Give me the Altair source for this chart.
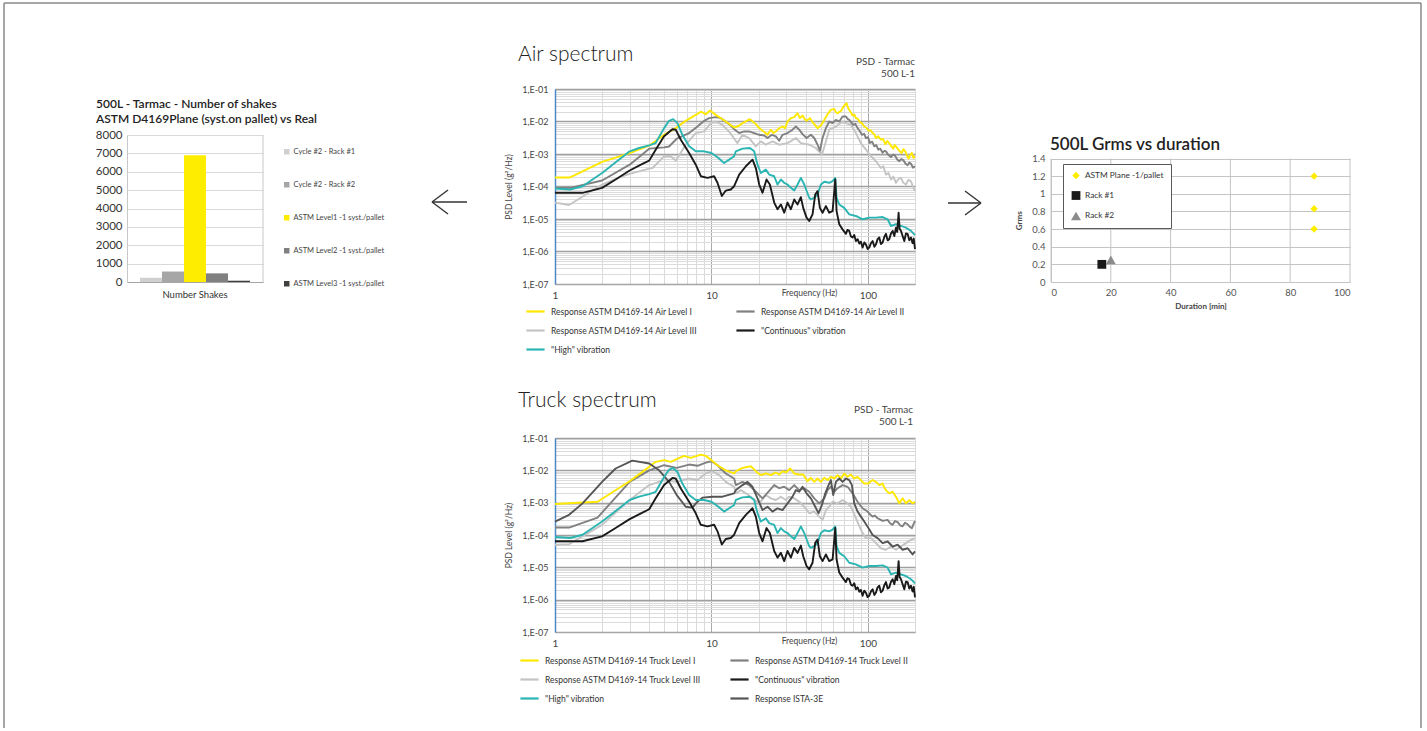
import altair as alt
import pandas as pd

FONT = "Lato"
TXT = "#333333"

# ---------------------------------------------------------------------------
# Number of shakes (bar chart)
# ---------------------------------------------------------------------------
shake_series = [
    "Cycle #2 - Rack #1",
    "Cycle #2 - Rack #2",
    "ASTM Level1 -1 syst./pallet",
    "ASTM Level2 -1 syst./pallet",
    "ASTM Level3 -1 syst./pallet",
]
shake_counts = [230, 570, 6900, 470, 70]
shake_colors = ["#d0d0d0", "#a6a6a6", "#ffed00", "#808080", "#404040"]

# ---------------------------------------------------------------------------
# Grms vs duration (scatter)
# ---------------------------------------------------------------------------
grms_series = ["ASTM Plane -1/pallet", "Rack #1", "Rack #2"]
grms_point_series = ["ASTM Plane -1/pallet", "ASTM Plane -1/pallet", "ASTM Plane -1/pallet", "Rack #1", "Rack #2"]
grms_duration = [88, 88, 88, 17, 20]
grms_value = [1.2, 0.83, 0.6, 0.2, 0.25]
grms_colors = ["#ffed00", "#1a1a1a", "#8c8c8c"]
grms_shapes = ["diamond", "square", "triangle-up"]
grms_sizes = [55, 100, 40]
duration_ticks = [0, 20, 40, 60, 80, 100]
grms_ticks = [0, 0.2, 0.4, 0.6, 0.8, 1.0, 1.2, 1.4]

# ---------------------------------------------------------------------------
# PSD curves: (frequency Hz, PSD g^2/Hz)
# ---------------------------------------------------------------------------
air_level1 = [
    (1.0, 1.9e-4), (1.25, 1.9e-4), (2.0, 5.7e-4), (3.0, 1.07e-3), (4.0, 1.8e-3), (4.98, 3.9e-3),
    (5.91, 6.25e-3), (6.85, 1.05e-2), (7.94, 1.6e-2), (8.55, 2.0e-2), (9.2, 1.68e-2), (9.8, 2.17e-2),
    (10.66, 1.6e-2), (12.35, 1.0e-2), (13.96, 6.5e-3), (15.0, 7.4e-3), (15.79, 8.9e-3), (17.6, 1.18e-2),
    (19.22, 8.3e-3), (20.2, 6.3e-3), (21.21, 5.2e-3), (22.0, 4.6e-3), (22.83, 3.9e-3), (23.97, 5.6e-3),
    (24.9, 4.4e-3), (25.8, 4.95e-3), (27.1, 6.25e-3), (28.47, 7.0e-3), (29.5, 6.2e-3), (30.64, 1.0e-2),
    (32.19, 1.27e-2), (33.81, 1.36e-2), (35.51, 1.8e-2), (36.75, 1.27e-2), (38.22, 1.53e-2), (39.4, 1.2e-2),
    (40.54, 1.05e-2), (42.58, 1.27e-2), (44.0, 1.0e-2), (45.39, 8.3e-3), (47.67, 6.25e-3), (50.06, 7.5e-3),
    (52.6, 1.12e-2), (55.24, 1.68e-2), (58.0, 2.27e-2), (60.94, 2.44e-2), (62.5, 1.9e-2), (64.0, 1.8e-2),
    (67.22, 2.12e-2), (69.0, 2.6e-2), (70.6, 3.1e-2), (73.07, 3.64e-2), (74.5, 2.7e-2), (76.0, 2.27e-2),
    (77.9, 1.9e-2), (79.82, 1.53e-2), (81.8, 1.65e-2), (83.8, 1.27e-2), (86.3, 1.2e-2), (88.9, 9.5e-3),
    (91.8, 8.8e-3), (94.8, 7.0e-3), (97.8, 6.4e-3), (101.0, 5.2e-3), (104.0, 5.4e-3), (107.2, 4.4e-3),
    (110.0, 4.0e-3), (112.6, 3.1e-3), (116.5, 3.5e-3), (121.1, 2.75e-3), (125.0, 2.9e-3), (129.2, 2.0e-3),
    (133.0, 2.5e-3), (136.9, 2.15e-3), (141.0, 1.75e-3), (145.3, 1.46e-3), (148.0, 1.9e-3), (151.1, 1.72e-3),
    (157.5, 1.3e-3), (164.3, 1.07e-3), (168.5, 1.4e-3), (173.4, 1.2e-3), (177.5, 9.0e-4), (182.1, 7.2e-4),
    (186.5, 9.5e-4), (191.2, 1.07e-3), (195.5, 7.6e-4), (200.0, 8.5e-4),
]
air_level2 = [
    (1.0, 9.1e-5), (1.25, 9.1e-5), (2.0, 1.53e-4), (3.0, 4.7e-4), (4.0, 1.46e-3), (4.98, 1.6e-3),
    (5.36, 1.7e-3), (6.0, 2.95e-3), (7.2, 4.4e-3), (8.14, 7.0e-3), (8.98, 1.05e-2), (9.66, 1.27e-2),
    (10.66, 1.36e-2), (11.47, 1.27e-2), (12.97, 8.3e-3), (13.96, 5.8e-3), (15.04, 4.4e-3), (16.19, 4.95e-3),
    (17.42, 4.95e-3), (18.76, 4.4e-3), (20.19, 3.9e-3), (21.73, 3.7e-3), (22.83, 3.1e-3), (24.33, 3.9e-3),
    (25.8, 3.5e-3), (27.1, 2.56e-3), (28.47, 3.9e-3), (30.64, 4.4e-3), (32.99, 5.6e-3), (34.64, 7.0e-3),
    (36.39, 5.6e-3), (38.22, 4.1e-3), (40.54, 3.1e-3), (43.21, 3.9e-3), (45.39, 3.1e-3), (47.67, 1.93e-3),
    (49.33, 1.26e-3), (51.3, 3.1e-3), (53.9, 6.25e-3), (56.61, 1.0e-2), (59.47, 8.9e-3), (62.45, 1.12e-2),
    (65.59, 1.0e-2), (68.87, 1.42e-2), (72.36, 1.42e-2), (74.2, 1.2e-2), (76.0, 1.12e-2), (80.6, 7.9e-3),
    (83.0, 8.5e-3), (85.9, 6.25e-3), (88.5, 5.2e-3), (91.6, 3.9e-3), (94.5, 4.2e-3), (97.1, 3.1e-3),
    (100.0, 3.3e-3), (103.0, 2.17e-3), (106.5, 2.4e-3), (109.8, 1.72e-3), (113.0, 1.9e-3), (116.5, 1.36e-3),
    (120.0, 1.45e-3), (124.2, 1.1e-3), (127.5, 1.25e-3), (130.4, 1.2e-3), (135.0, 9.5e-4), (140.4, 8.0e-4),
    (144.5, 9.5e-4), (148.9, 9.0e-4), (154.0, 6.8e-4), (158.7, 6.0e-4), (163.5, 7.0e-4), (168.4, 6.5e-4),
    (174.0, 5.0e-4), (179.4, 4.5e-4), (184.0, 5.5e-4), (188.5, 5.0e-4), (194.0, 3.8e-4), (200.0, 4.2e-4),
]
air_level3 = [
    (1.0, 3.2e-5), (1.23, 2.7e-5), (2.0, 1.15e-4), (2.7, 2.07e-4), (3.0, 2.44e-4), (4.0, 3.55e-4),
    (4.2, 3.7e-4), (4.98, 8.5e-4), (5.49, 8.5e-4), (5.91, 6.25e-4), (6.85, 1.93e-3), (7.94, 4.4e-3),
    (8.98, 4.95e-3), (10.0, 9.5e-3), (10.66, 1.0e-2), (11.76, 7.9e-3), (13.0, 4.8e-3), (13.96, 3.0e-3),
    (14.67, 2.17e-3), (15.79, 3.9e-3), (17.42, 3.1e-3), (19.22, 1.72e-3), (20.69, 2.44e-3), (22.27, 1.93e-3),
    (24.57, 2.44e-3), (27.1, 1.93e-3), (30.64, 2.17e-3), (34.64, 3.1e-3), (37.29, 2.17e-3), (42.16, 1.93e-3),
    (46.51, 1.53e-3), (50.82, 9.5e-4), (53.9, 2.44e-3), (56.61, 5.6e-3), (62.45, 7.0e-3), (68.87, 1.0e-2),
    (72.36, 8.9e-3), (77.88, 7.9e-3), (83.8, 4.4e-3), (90.2, 2.17e-3), (97.1, 1.36e-3), (104.6, 8.5e-4),
    (112.6, 6.0e-4), (121.1, 3.7e-4), (125.5, 4.2e-4), (130.4, 2.33e-4), (135.5, 2.6e-4), (140.4, 1.64e-4),
    (145.5, 2.0e-4), (151.1, 1.3e-4), (157.0, 1.7e-4), (162.7, 1.84e-4), (168.5, 1.3e-4), (175.1, 1.15e-4),
    (181.5, 1.6e-4), (188.5, 1.45e-4), (194.0, 1.0e-4), (200.0, 7.2e-5),
]
high_vibration = [
    (1.0, 8.7e-5), (1.25, 8.1e-5), (1.5, 1.02e-4), (2.0, 2.6e-4), (3.0, 1.21e-3), (3.45, 1.53e-3),
    (4.0, 1.84e-3), (4.4, 2.17e-3), (4.98, 6.25e-3), (5.36, 1.05e-2), (5.69, 1.18e-2), (6.06, 8.9e-3),
    (6.52, 3.9e-3), (7.2, 1.72e-3), (7.94, 1.21e-3), (8.98, 1.21e-3), (10.0, 1.07e-3), (10.93, 7.9e-4),
    (12.05, 5.3e-4), (12.97, 6.7e-4), (13.96, 8.5e-4), (14.32, 1.21e-3), (15.79, 1.46e-3), (17.6, 1.53e-3),
    (18.76, 1.21e-3), (19.7, 4.7e-4), (20.69, 2.6e-4), (22.27, 3.3e-4), (23.39, 2.33e-4), (25.18, 2.07e-4),
    (26.45, 1.15e-4), (27.78, 1.64e-4), (29.17, 1.3e-4), (30.64, 1.15e-4), (32.19, 9.1e-5), (33.81, 7.5e-5),
    (35.51, 1.15e-4), (37.29, 1.84e-4), (39.17, 1.15e-4), (42.16, 4.5e-5), (43.21, 4.0e-5), (45.39, 4.5e-5),
    (47.67, 5.7e-5), (50.06, 1.15e-4), (52.6, 1.4e-4), (56.61, 1.3e-4), (59.47, 1.46e-4), (61.84, 1.84e-4),
    (63.07, 4.5e-5), (65.59, 2.8e-5), (70.6, 2.2e-5), (76.0, 1.39e-5), (83.8, 1.24e-5), (92.5, 9.8e-6),
    (102.0, 1.1e-5), (112.6, 1.1e-5), (124.2, 1.15e-5), (133.7, 9.8e-6), (140.4, 6.1e-6), (151.1, 6.9e-6),
    (162.7, 6.1e-6), (175.1, 5.4e-6), (188.5, 4.3e-6), (200.0, 3.2e-6),
]
continuous_vibration = [
    (1.0, 6.4e-5), (1.5, 6.4e-5), (2.0, 9.1e-5), (2.44, 1.64e-4), (3.0, 3.1e-4), (3.62, 4.95e-4),
    (4.0, 6.25e-4), (4.4, 1.36e-3), (4.98, 3.5e-3), (5.63, 5.8e-3), (5.91, 5.6e-3), (6.37, 2.75e-3),
    (7.2, 1.07e-3), (7.94, 4.7e-4), (8.55, 2.07e-4), (9.43, 1.84e-4), (10.4, 2.07e-4), (10.93, 1.3e-4),
    (11.65, 5.1e-5), (12.35, 7.5e-5), (13.29, 8.1e-5), (13.96, 1.02e-4), (15.04, 2.33e-4), (16.59, 4.2e-4),
    (18.3, 6.7e-4), (19.22, 3.7e-4), (20.19, 1.15e-4), (21.21, 6.4e-5), (22.49, 1.64e-4), (23.62, 1.15e-4),
    (25.18, 3.2e-5), (26.45, 2.0e-5), (27.78, 2.8e-5), (29.17, 1.56e-5), (30.64, 3.2e-5), (32.19, 2.0e-5),
    (33.81, 4.0e-5), (35.51, 2.8e-5), (37.29, 4.7e-5), (38.59, 2.2e-5), (40.54, 1.1e-5), (42.16, 8.7e-6),
    (44.28, 1.39e-5), (46.06, 5.7e-5), (47.67, 7.2e-5), (49.33, 2.2e-5), (51.3, 1.56e-5), (53.9, 2.5e-5),
    (56.61, 1.56e-5), (59.47, 1.75e-5), (61.84, 1.64e-4), (63.07, 1.75e-5), (65.59, 6.9e-6), (68.87, 4.8e-6),
    (72.36, 3.5e-6), (74.0, 4.6e-6), (76.0, 4.3e-6), (77.9, 2.9e-6), (79.82, 2.7e-6), (81.8, 3.2e-6),
    (83.8, 2.1e-6), (86.0, 2.4e-6), (88.1, 1.76e-6), (90.2, 2.0e-6), (92.5, 1.32e-6), (94.8, 1.9e-6),
    (97.1, 1.66e-6), (99.5, 1.2e-6), (102.0, 1.32e-6), (104.6, 1.8e-6), (107.2, 2.1e-6), (110.0, 1.4e-6),
    (112.6, 1.66e-6), (115.3, 2.4e-6), (118.2, 2.7e-6), (121.1, 1.7e-6), (124.2, 1.9e-6), (127.3, 2.8e-6),
    (130.4, 3.5e-6), (133.7, 2.2e-6), (136.9, 2.4e-6), (140.4, 3.6e-6), (143.9, 4.3e-6), (147.5, 3.0e-6),
    (151.1, 5.4e-6), (154.0, 4.0e-6), (157.1, 1.56e-5), (159.5, 5.0e-6), (162.7, 4.3e-6), (166.7, 3.0e-6),
    (170.8, 2.1e-6), (175.1, 3.6e-6), (179.4, 3.5e-6), (183.9, 2.2e-6), (188.5, 2.7e-6), (193.1, 1.8e-6),
    (196.5, 2.5e-6), (200.0, 1.18e-6),
]
truck_level1 = [
    (1.0, 9.1e-4), (1.87, 1.07e-3), (3.0, 4.6e-3), (4.0, 1.28e-2), (4.4, 1.83e-2), (4.98, 2.06e-2),
    (5.49, 1.83e-2), (6.0, 2.21e-2), (6.69, 2.8e-2), (7.38, 2.43e-2), (8.55, 3.07e-2), (9.2, 2.8e-2),
    (10.0, 2.06e-2), (10.93, 1.44e-2), (12.35, 1.0e-2), (13.96, 8.0e-3), (14.32, 9.4e-3), (15.79, 1.19e-2),
    (17.86, 1.34e-2), (19.22, 9.4e-3), (20.69, 7.1e-3), (22.27, 8.0e-3), (23.97, 7.1e-3), (25.8, 8.6e-3),
    (27.1, 7.4e-3), (28.47, 9.4e-3), (29.9, 8.6e-3), (31.87, 1.14e-2), (33.81, 8.0e-3), (36.39, 7.4e-3),
    (38.59, 7.4e-3), (41.14, 4.6e-3), (43.21, 5.9e-3), (45.39, 4.4e-3), (47.67, 5.6e-3), (50.06, 4.4e-3),
    (52.6, 5.9e-3), (55.24, 5.0e-3), (58.0, 6.3e-3), (60.94, 5.6e-3), (64.0, 7.1e-3), (67.22, 5.6e-3),
    (70.6, 8.0e-3), (74.16, 6.3e-3), (77.88, 7.4e-3), (81.8, 5.6e-3), (85.9, 6.3e-3), (90.2, 5.0e-3),
    (94.8, 3.9e-3), (101.0, 3.9e-3), (104.0, 4.6e-3), (107.2, 5.0e-3), (112.6, 4.4e-3), (118.2, 3.5e-3),
    (124.2, 3.9e-3), (127.0, 3.0e-3), (130.4, 2.45e-3), (136.9, 1.94e-3), (143.9, 2.18e-3), (151.1, 1.53e-3),
    (158.7, 9.5e-4), (166.7, 1.36e-3), (175.1, 9.5e-4), (183.9, 1.2e-3), (193.1, 9.5e-4), (200.0, 1.07e-3),
]
truck_level2 = [
    (1.0, 1.7e-4), (1.23, 1.7e-4), (1.87, 3.45e-4), (3.0, 4.4e-3), (4.0, 1.0e-2), (4.98, 1.44e-2),
    (6.0, 1.19e-2), (7.2, 1.51e-2), (8.14, 1.38e-2), (9.2, 1.74e-2), (10.0, 1.91e-2), (10.93, 1.44e-2),
    (12.35, 8.0e-3), (13.96, 5.6e-3), (14.32, 3.5e-3), (15.79, 4.4e-3), (17.42, 3.5e-3), (19.22, 2.18e-3),
    (21.21, 1.36e-3), (23.62, 2.45e-3), (25.18, 3.5e-3), (27.1, 2.8e-3), (29.17, 3.1e-3), (31.41, 2.45e-3),
    (33.81, 3.5e-3), (36.39, 2.45e-3), (39.17, 2.8e-3), (42.16, 2.18e-3), (45.39, 1.36e-3), (48.85, 9.5e-4),
    (52.6, 1.36e-3), (55.24, 2.45e-3), (58.0, 3.1e-3), (60.94, 2.18e-3), (64.0, 2.8e-3), (68.87, 3.5e-3),
    (74.16, 3.1e-3), (79.82, 1.94e-3), (85.9, 1.07e-3), (92.5, 6.7e-4), (99.5, 5.3e-4), (103.0, 4.4e-4),
    (107.2, 3.7e-4), (111.0, 4.0e-4), (115.3, 3.3e-4), (120.0, 3.0e-4), (124.2, 2.73e-4), (133.7, 2.93e-4),
    (138.5, 2.3e-4), (143.9, 2.06e-4), (149.0, 2.7e-4), (154.9, 2.5e-4), (160.5, 2.0e-4), (166.7, 1.85e-4),
    (172.5, 2.4e-4), (179.4, 2.15e-4), (185.0, 1.8e-4), (191.2, 1.62e-4), (196.0, 2.2e-4), (200.0, 2.73e-4),
]
truck_level3 = [
    (1.0, 5.0e-5), (1.23, 5.2e-5), (2.0, 2.06e-4), (3.0, 1.21e-3), (4.0, 3.5e-3), (4.98, 5.0e-3),
    (6.0, 4.4e-3), (7.2, 5.6e-3), (8.14, 5.0e-3), (9.2, 8.0e-3), (10.15, 9.4e-3), (11.19, 7.1e-3),
    (12.35, 4.4e-3), (13.96, 3.1e-3), (14.32, 1.94e-3), (15.41, 2.45e-3), (16.59, 1.94e-3), (18.3, 1.36e-3),
    (20.19, 9.5e-4), (22.27, 1.72e-3), (23.97, 1.36e-3), (25.8, 1.21e-3), (27.78, 1.53e-3), (29.9, 1.21e-3),
    (31.41, 1.53e-3), (33.81, 1.36e-3), (36.39, 1.07e-3), (39.17, 7.5e-4), (42.16, 4.7e-4), (45.39, 5.3e-4),
    (48.85, 3.7e-4), (51.3, 2.93e-4), (53.9, 5.9e-4), (56.61, 7.5e-4), (59.47, 1.07e-3), (64.0, 9.5e-4),
    (68.87, 1.21e-3), (74.16, 9.5e-4), (77.88, 7.5e-4), (83.8, 3.3e-4), (90.2, 1.44e-4), (97.1, 8.0e-5),
    (104.6, 8.0e-5), (112.6, 5.6e-5), (121.1, 3.9e-5), (130.4, 3.5e-5), (140.4, 4.4e-5), (151.1, 3.5e-5),
    (162.7, 4.4e-5), (175.1, 5.6e-5), (188.5, 7.1e-5), (200.0, 8.0e-5),
]
ista_3e = [
    (1.0, 2.6e-4), (1.23, 4.2e-4), (1.5, 9.5e-4), (2.0, 4.4e-3), (2.44, 1.14e-2), (3.12, 2.0e-2),
    (4.0, 1.62e-2), (4.63, 1.0e-2), (5.36, 4.4e-3), (6.0, 1.72e-3), (6.85, 7.5e-4), (7.56, 7.0e-4),
    (8.14, 1.07e-3), (8.76, 1.43e-3), (10.15, 1.53e-3), (11.76, 1.53e-3), (13.96, 1.94e-3), (14.32, 2.45e-3),
    (15.79, 3.5e-3), (17.0, 4.4e-3), (18.3, 3.1e-3), (19.7, 1.36e-3), (21.21, 5.9e-4), (22.83, 7.5e-4),
    (24.57, 5.3e-4), (26.45, 6.7e-4), (28.47, 5.9e-4), (30.64, 9.5e-4), (32.99, 1.53e-3), (34.64, 2.45e-3),
    (36.39, 2.18e-3), (38.22, 3.1e-3), (40.54, 1.94e-3), (43.21, 1.36e-3), (46.06, 7.5e-4), (48.37, 4.7e-4),
    (50.82, 8.5e-4), (53.38, 1.94e-3), (56.06, 3.5e-3), (58.0, 5.0e-3), (60.05, 1.72e-3), (62.45, 4.4e-3),
    (65.59, 5.6e-3), (68.87, 4.4e-3), (72.36, 5.6e-3), (76.0, 5.0e-3), (79.03, 3.5e-3), (81.8, 9.5e-4),
    (85.9, 5.3e-4), (90.2, 3.7e-4), (94.8, 2.6e-4), (101.0, 1.62e-4), (107.2, 1.0e-4), (115.3, 8.0e-5),
    (124.2, 5.6e-5), (133.7, 6.3e-5), (143.9, 4.4e-5), (154.9, 5.0e-5), (166.7, 3.5e-5), (179.4, 3.9e-5),
    (193.1, 2.5e-5), (200.0, 3.1e-5),
]

# Legend entries are listed column by column (two columns).
AIR_SERIES = {
    "Response ASTM D4169-14 Air Level I": (air_level1, "#ffe800"),
    "Response ASTM D4169-14 Air Level III": (air_level3, "#c4c4c4"),
    '"High" vibration': (high_vibration, "#2ab5b3"),
    "Response ASTM D4169-14 Air Level II": (air_level2, "#808080"),
    '"Continuous" vibration': (continuous_vibration, "#1a1a1a"),
}
AIR_DRAW_ORDER = [
    "Response ASTM D4169-14 Air Level III", "Response ASTM D4169-14 Air Level II",
    "Response ASTM D4169-14 Air Level I", '"High" vibration', '"Continuous" vibration',
]
TRUCK_SERIES = {
    "Response ASTM D4169-14 Truck Level I": (truck_level1, "#ffe800"),
    "Response ASTM D4169-14 Truck Level III": (truck_level3, "#c4c4c4"),
    '"High" vibration': (high_vibration, "#2ab5b3"),
    "Response ASTM D4169-14 Truck Level II": (truck_level2, "#808080"),
    '"Continuous" vibration': (continuous_vibration, "#1a1a1a"),
    "Response ISTA-3E": (ista_3e, "#555555"),
}
TRUCK_DRAW_ORDER = [
    "Response ASTM D4169-14 Truck Level III", "Response ASTM D4169-14 Truck Level II",
    "Response ASTM D4169-14 Truck Level I", "Response ISTA-3E", '"High" vibration', '"Continuous" vibration',
]

FREQ_TICKS = [1, 2, 3, 4, 5, 6, 7, 8, 9, 10, 20, 30, 40, 50, 60, 70, 80, 90, 100, 200]
PSD_TICKS = [float(f"{m}e{e}") for e in range(-7, -1) for m in range(1, 10)] + [0.1]
DECADE = "abs(log(datum.value) / LN10 - round(log(datum.value) / LN10)) < 0.01"

ONE = pd.DataFrame({"k": [0]})


def text(value, x, y, size, align="left", baseline="middle", weight="normal", color=TXT):
    return alt.Chart(ONE).mark_text(
        text=value, align=align, baseline=baseline, fontSize=size, fontWeight=weight,
        color=color, font=FONT,
    ).encode(x=alt.value(x), y=alt.value(y))


def segment(x, y, x2, y2, color="#333333", width=1.4):
    return alt.Chart(ONE).mark_rule(color=color, strokeWidth=width).encode(
        x=alt.value(x), y=alt.value(y), x2=alt.value(x2), y2=alt.value(y2)
    )


# ---------------------------------------------------------------------------
# Bar panel
# ---------------------------------------------------------------------------
bar_df = pd.DataFrame({"group": "Number Shakes", "series": shake_series, "count": shake_counts})
bar_y = alt.Y(
    "count:Q", title=None,
    scale=alt.Scale(domain=[0, 8000], range=[193, 46]),
    axis=alt.Axis(values=list(range(0, 8001, 1000)), format="d", grid=True, gridColor="#d9d9d9",
                  ticks=False, domainColor="#c8c8c8", labelFontSize=11.5, labelPadding=5, labelColor=TXT),
)

bars = alt.Chart(bar_df).mark_bar().encode(
    x=alt.X(
        "group:N", title=None,
        scale=alt.Scale(paddingInner=0, paddingOuter=0.118),
        axis=alt.Axis(labelAngle=0, ticks=False, domainColor="#a6a6a6", labelFontSize=9.5,
                      labelColor=TXT, labelPadding=7),
    ),
    xOffset=alt.XOffset("series:N", sort=shake_series, scale=alt.Scale(paddingInner=0, paddingOuter=0)),
    y=bar_y,
    color=alt.Color(
        "series:N", sort=shake_series,
        scale=alt.Scale(domain=shake_series, range=shake_colors),
        legend=alt.Legend(title=None, orient="none", legendX=156, legendY=59, symbolType="square",
                          symbolSize=30, symbolStrokeWidth=0, labelFontSize=7.5, labelColor="#444",
                          rowPadding=24, padding=0, labelOffset=3, labelLimit=300),
    ),
)
# right-hand edge of the plot frame, from 0 to the top of the count scale
frame_df = pd.DataFrame({"count": [8000], "count0": [0]})
bar_frame = alt.Chart(frame_df).mark_rule(color="#c8c8c8").encode(
    x=alt.value(136), y=bar_y, y2="count0:Q"
)

bar_panel = alt.layer(
    bars,
    bar_frame,
    text("500L - Tarmac - Number of shakes", -31, 15, 12, weight=600, color="#222"),
    text("ASTM D4169Plane (syst.on pallet) vs Real", -31, 30, 12, weight=600, color="#222"),
    # page frame and origin marker
    alt.Chart(ONE).mark_text(text=".", fontSize=6, color="white", align="left", baseline="top").encode(
        x=alt.value(-127), y=alt.value(-89)
    ),
    segment(-123, -86, -123, 639, color="#8a8a8a", width=1.5),
    segment(-123, -86, 1294, -86, color="#8a8a8a", width=1.5),
    segment(1294, -86, 1294, 639, color="#8a8a8a", width=1.5),
).properties(width=136, height=193)

# ---------------------------------------------------------------------------
# Arrows
# ---------------------------------------------------------------------------
arrow_left = alt.layer(
    segment(159, 113, 194, 113),
    segment(159, 113, 175, 101),
    segment(159, 113, 175, 125),
).properties(width=272, height=195)

arrow_right = alt.layer(
    segment(23, 114, 56, 114),
    segment(56, 114, 40, 102),
    segment(56, 114, 40, 126),
).properties(width=116, height=195)


# ---------------------------------------------------------------------------
# Spectrum panels
# ---------------------------------------------------------------------------
def spectrum(series, draw_order, title, title_y, sub_x, sub_y, legend_x, col_pad, height):
    names = list(series)
    df = pd.DataFrame(
        [{"series": n, "f": f, "psd": v} for n in names for f, v in series[n][0]]
    )
    x = alt.X(
        "f:Q", title="Frequency (Hz)",
        scale=alt.Scale(type="log", domain=[1, 200], nice=False),
        axis=alt.Axis(
            values=FREQ_TICKS, ticks=False, domainColor="#a6a6a6",
            labelExpr="(datum.value == 1 || datum.value == 10 || datum.value == 100) ? '' + datum.value : ''",
            labelFontSize=10, labelColor="#444", labelPadding=6, labelFlush=False,
            gridColor={"condition": {"test": DECADE, "value": "#a8a8a8"}, "value": "#dadada"},
            titleX=254, titleY=8, titleBaseline="middle", titleFontSize=8.5,
            titleFontWeight="normal", titleColor="#444",
        ),
    )
    y = alt.Y(
        "psd:Q", title="PSD Level (g²/Hz)",
        scale=alt.Scale(type="log", domain=[1e-7, 1e-1], nice=False),
        axis=alt.Axis(
            values=PSD_TICKS, ticks=False, domainColor="#4f88c6", domainWidth=1.5,
            labelExpr=f"{DECADE} ? '1,E-0' + (-round(log(datum.value) / LN10)) : ''",
            labelFontSize=9, labelColor="#444", labelPadding=7, labelFlush=False,
            gridColor={"condition": {"test": DECADE, "value": "#a0a0a0"}, "value": "#dcdcdc"},
            gridWidth={"condition": {"test": DECADE, "value": 1.4}, "value": 1},
            titleFontSize=8.5, titleFontWeight="normal", titleColor="#444", titlePadding=8,
        ),
    )
    color = alt.Color(
        "series:N",
        scale=alt.Scale(domain=names, range=[series[n][1] for n in names]),
        legend=alt.Legend(
            title=None, orient="none", legendX=legend_x, legendY=212, columns=2,
            columnPadding=col_pad, rowPadding=4, symbolType="stroke", symbolSize=330,
            symbolStrokeWidth=2.2, labelFontSize=8.5, labelColor=TXT, labelOffset=5,
            labelLimit=400, padding=0,
        ),
    )
    lines = [
        alt.Chart(df)
        .transform_filter(alt.FieldEqualPredicate(field="series", equal=n))
        .mark_line(strokeWidth=1.9, strokeJoin="round")
        .encode(x=x, y=y, color=color)
        for n in draw_order
    ]
    return alt.layer(
        *lines,
        text(title, -37, title_y, 21, baseline="alphabetic", weight=300, color="#222"),
        text("PSD - Tarmac", sub_x, sub_y, 10, align="right", color="#444"),
        text("500 L-1", sub_x, sub_y + 11.5, 10, align="right", color="#444"),
    ).properties(width=360, height=height)


air = spectrum(AIR_SERIES, AIR_DRAW_ORDER, "Air spectrum", -28, 360, -27, -30, 34, 195)
truck = spectrum(TRUCK_SERIES, TRUCK_DRAW_ORDER, "Truck spectrum", -31, 358, -28, -36, 25, 194)

# ---------------------------------------------------------------------------
# Scatter panel
# ---------------------------------------------------------------------------
grms_df = pd.DataFrame({"series": grms_point_series, "duration": grms_duration, "grms": grms_value})
duration_scale = alt.Scale(domain=[0, 100], nice=False)
grms_scale = alt.Scale(domain=[0, 1.4], range=[193, 69.5], nice=False, zero=False)
duration_axis = alt.Axis(values=duration_ticks, ticks=False, grid=False, domainColor="#c4c4c4",
                         labelFontSize=9.5, labelColor="#555", labelPadding=5, titleFontSize=8,
                         titleFontWeight="bold", titleColor="#444", titlePadding=6)
grms_axis = alt.Axis(values=grms_ticks, format="~g", ticks=False, gridColor="#c4c4c4",
                     domainColor="#c4c4c4", labelFontSize=9.5, labelColor="#555", labelPadding=6,
                     titleFontSize=8, titleFontWeight="bold", titleColor="#444", titlePadding=8)
scatter_legend = alt.Legend(
    title=None, orient="none", legendX=12, legendY=75, padding=7, strokeColor="#595959",
    fillColor="white", labelFontSize=8.3, labelColor=TXT, rowPadding=10, labelOffset=3,
    labelLimit=300,
)
# vertical grid lines at the duration ticks, spanning the Grms range
vgrid_df = pd.DataFrame({"duration": duration_ticks, "g0": 0.0, "g1": 1.4})
scatter_vgrid = alt.Chart(vgrid_df).mark_rule(color="#c4c4c4", strokeWidth=1).encode(
    x=alt.X("duration:Q", title="Duration [min]", scale=duration_scale, axis=duration_axis),
    y=alt.Y("g0:Q", title="Grms", scale=grms_scale, axis=grms_axis),
    y2="g1:Q",
)
scatter_points = alt.Chart(grms_df).mark_point(filled=True, opacity=1).encode(
    x=alt.X("duration:Q", title="Duration [min]", scale=duration_scale, axis=duration_axis),
    y=alt.Y("grms:Q", title="Grms", scale=grms_scale, axis=grms_axis),
    color=alt.Color("series:N", scale=alt.Scale(domain=grms_series, range=grms_colors), legend=scatter_legend),
    shape=alt.Shape("series:N", scale=alt.Scale(domain=grms_series, range=grms_shapes), legend=scatter_legend),
    size=alt.Size("series:N", scale=alt.Scale(domain=grms_series, range=grms_sizes), legend=scatter_legend),
)
scatter_panel = alt.layer(
    scatter_vgrid,
    scatter_points,
    text("500L Grms vs duration", -1, 61, 17, baseline="alphabetic", weight=600, color="#222"),
).properties(width=299, height=193)

spacer = alt.Chart(ONE).mark_point(opacity=0).encode(x=alt.value(0), y=alt.value(0)).properties(width=1, height=1)

chart = (
    alt.concat(
        bar_panel, arrow_left, air, arrow_right, scatter_panel,
        spacer, spacer, truck,
        columns=5, spacing={"row": 154, "column": 10}, bounds="flush",
    )
    .resolve_scale(color="independent", shape="independent", size="independent")
    .properties(padding=0, background="white")
    .configure(font=FONT)
    .configure_view(stroke=None)
)

chart.save("out.html", embed_options={"renderer": "svg", "actions": False})
